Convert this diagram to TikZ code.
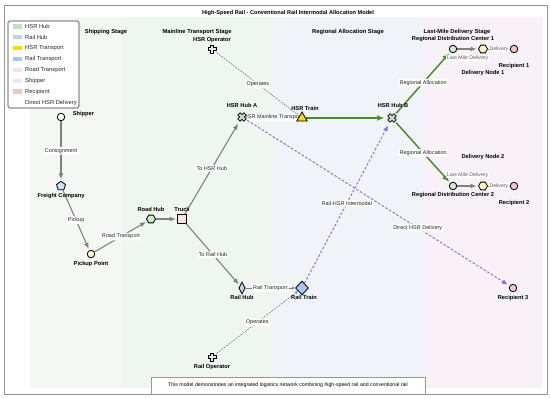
\documentclass[tikz,border=0pt]{standalone}
\usepackage{fontspec}
\setmainfont{Liberation Sans}
\usetikzlibrary{arrows.meta, positioning, shapes.geometric, calc}

\definecolor{hubGreen}{RGB}{190,226,190}
\definecolor{railHubBlue}{RGB}{188,212,238}
\definecolor{hsrGold}{RGB}{255,215,0}
\definecolor{railBlue}{RGB}{169,197,240}
\definecolor{roadPink}{RGB}{252,226,230}
\definecolor{shipLav}{RGB}{238,228,248}
\definecolor{recPink}{RGB}{245,196,196}
\definecolor{pickYellow}{RGB}{255,244,190}
\definecolor{freightBlue}{RGB}{205,225,246}
\definecolor{opFill}{RGB}{242,222,242}
\definecolor{flowGray}{RGB}{128,128,128}
\definecolor{hsrGreen}{RGB}{74,140,46}
\definecolor{interPurple}{RGB}{147,112,219}
\definecolor{bandShip}{RGB}{245,247,245}
\definecolor{bandMain}{RGB}{239,246,239}
\definecolor{bandReg}{RGB}{240,244,249}
\definecolor{bandLast}{RGB}{248,242,248}
\definecolor{frameGray}{RGB}{150,150,150}

\newcommand{\plusPath}[2]{(-#1,-#2) -- (#1,-#2) -- (#1,-#1) -- (#2,-#1) -- (#2,#1) -- (#1,#1) -- (#1,#2) -- (-#1,#2) -- (-#1,#1) -- (-#2,#1) -- (-#2,-#1) -- (-#1,-#1) -- cycle}
\newcommand{\xPath}{(1.98,-4.24) -- (4.24,-1.98) -- (2.26,0) -- (4.24,1.98) -- (1.98,4.24) -- (0,2.26) -- (-1.98,4.24) -- (-4.24,1.98) -- (-2.26,0) -- (-4.24,-1.98) -- (-1.98,-4.24) -- (0,-2.26) -- cycle}

\pgfdeclarelayer{bands}
\pgfdeclarelayer{links}
\pgfsetlayers{bands,links,main}

\begin{document}
\begin{tikzpicture}[
  x=1pt, y=-1pt,
  font=\fontsize{5.7}{6.5}\selectfont,
  shapeBase/.style={draw=black, line width=0.8pt, inner sep=0pt},
  dot/.style={shapeBase, circle, minimum size=7.5pt},
  hexa/.style={shapeBase, regular polygon, regular polygon sides=6, minimum size=9pt},
  penta/.style={shapeBase, regular polygon, regular polygon sides=5, minimum size=9.5pt},
  sq/.style={shapeBase, rectangle, minimum size=8.5pt, fill=roadPink},
  tri/.style={shapeBase, regular polygon, regular polygon sides=3, minimum size=12pt, fill=hsrGold},
  diam/.style={shapeBase, diamond, fill=railBlue},
  hubX/.style={circle, minimum size=12pt, inner sep=0pt, path picture={
    \filldraw[fill=hubGreen, draw=black, line width=0.7pt,
      shift={(path picture bounding box.center)}] \xPath;}},
  opPlus/.style={circle, minimum size=11pt, inner sep=0pt, path picture={
    \filldraw[fill=opFill, draw=black, line width=0.8pt,
      shift={(path picture bounding box.center)}] \plusPath{1.5}{4.1};}},
  lbl/.style={font=\fontsize{5.7}{6.5}\selectfont\bfseries, inner sep=0.5pt},
  stageLbl/.style={font=\fontsize{5.8}{6.5}\selectfont\bfseries, inner sep=0.5pt},
  edgeLbl/.style={fill=white, inner sep=1.2pt, rounded corners=1pt, font=\fontsize{5.5}{6.5}\selectfont, text=black!85},
  smallLbl/.style={fill=white, inner sep=0.6pt, font=\fontsize{5.2}{6}\selectfont, text=black!65},
  legTxt/.style={font=\fontsize{5.8}{6.5}\selectfont, inner sep=0pt, text=black!85},
  flow/.style={draw=flowGray, line width=1.1pt, -{Latex[length=6pt, width=5pt]}, shorten >=1.5pt},
  thinFlow/.style={draw=flowGray, line width=0.6pt, -{Latex[length=3pt, width=3pt]}},
  hsrFlow/.style={draw=hsrGreen, line width=1.5pt, -{Latex[length=7pt, width=6pt]}, shorten >=1.5pt},
  interFlow/.style={draw=interPurple, line width=1pt, dash pattern=on 2.5pt off 1.8pt, -{Latex[length=6pt, width=5pt]}, shorten >=2pt},
  opLine/.style={draw=flowGray, line width=0.6pt, dash pattern=on 2pt off 1pt, -{Latex[length=3pt, width=3pt]}}
]
\useasboundingbox (0,0) rectangle (550,399);

\begin{pgfonlayer}{bands}
  \fill[white] (0,0) rectangle (550,399);
  \fill[bandShip] (30,17) rectangle (122,388);
  \fill[bandMain] (122,17) rectangle (273,388);
  \fill[bandReg] (273,17) rectangle (423,388);
  \fill[bandLast] (423,17) rectangle (543,388);
  \draw[frameGray, line width=0.8pt] (4,5) rectangle (547,394);
\end{pgfonlayer}

\node[font=\fontsize{5.6}{6.5}\selectfont\bfseries] (title) at (288,13) {High-Speed Rail - Conventional Rail Intermodal Allocation Model};

\node[stageLbl] (stShip) at (106,32) {Shipping Stage};
\node[stageLbl] (stMain) at (197,32) {Mainline Transport Stage};
\node[stageLbl] (stReg) at (348,32) {Regional Allocation Stage};
\node[stageLbl] (stLast) at (457,32) {Last-Mile Delivery Stage};

% shipping side
\node[dot, fill=white, label={[lbl, anchor=west, xshift=7pt, yshift=3pt]east:Shipper}] (shipper) at (61,117) {};
\node[penta, fill=freightBlue, label={[lbl, label distance=2pt]below:Freight Company}] (freight) at (61,186) {};
\node[dot, fill=pickYellow, label={[lbl, label distance=2.5pt]below:Pickup Point}] (pickup) at (91,254) {};
\node[hexa, fill=hubGreen!70, label={[lbl, label distance=2pt]above:Road Hub}] (roadHub) at (151,219) {};
\node[sq, label={[lbl, label distance=2pt]above:Truck}] (truck) at (182,219) {};

% mainline
\node[opPlus, label={[lbl, label distance=0pt]above:HSR Operator}] (hsrOp) at (212,49) {};
\node[hubX, label={[lbl, label distance=2.5pt]above:HSR Hub A}] (hubA) at (242,117) {};
\node[tri, label={[lbl, label distance=0pt, xshift=3pt]above:HSR Train}] (hsrTrain) at (302,118) {};
\node[diam, minimum width=6.5pt, minimum height=12pt, fill=railHubBlue, label={[lbl, label distance=0.5pt]below:Rail Hub}] (railHub) at (242,288) {};
\node[diam, minimum width=13pt, minimum height=14pt, label={[lbl, label distance=-1pt, xshift=2pt]below:Rail Train}] (railTrain) at (302,288) {};
\node[opPlus, label={[lbl, label distance=0.5pt]below:Rail Operator}] (railOp) at (212,357) {};

% regional and last mile
\node[hubX, label={[lbl, label distance=3.5pt, xshift=1pt]above:HSR Hub B}] (hubB) at (392,118) {};
\node[dot, fill=hubGreen!70, label={[lbl, label distance=2pt]above:Regional Distribution Center 1}] (rdcA) at (453,49) {};
\node[hexa, fill=pickYellow, label={[lbl, label distance=16pt]below:Delivery Node 1}] (dnA) at (483,49) {};
\node[dot, fill=recPink, label={[lbl, label distance=10pt]below:Recipient 1}] (recA) at (514,49) {};
\node[dot, fill=hubGreen!70, label={[lbl, label distance=2pt]below:Regional Distribution Center 2}] (rdcB) at (453,186) {};
\node[hexa, fill=pickYellow, label={[lbl, label distance=21pt]above:Delivery Node 2}] (dnB) at (483,186) {};
\node[dot, fill=recPink, label={[lbl, label distance=10pt]below:Recipient 2}] (recB) at (514,186) {};
\node[dot, fill=recPink, label={[lbl, label distance=2.5pt]below:Recipient 3}] (recC) at (513,288) {};

\begin{pgfonlayer}{links}
  \draw[flow] (shipper) -- node[edgeLbl] {Consignment} (freight);
  \draw[flow] (freight) -- node[edgeLbl] {Pickup} (pickup);
  \draw[flow] (pickup) -- node[edgeLbl] {Road Transport} (roadHub);
  \draw[flow] (roadHub) -- (truck);
  \draw[flow] (truck) -- node[edgeLbl] {To HSR Hub} (hubA);
  \draw[flow] (truck) -- node[edgeLbl] {To Rail Hub} (railHub);
  \draw[opLine] (hsrOp) -- node[edgeLbl] {Operates} (hsrTrain);
  \draw[opLine] (railOp) -- node[edgeLbl] {Operates} (railTrain);
  \draw[thinFlow] (hubA) -- node[edgeLbl] {HSR Mainline Transport} (hsrTrain);
  \draw[thinFlow] (railHub) -- node[edgeLbl] {Rail Transport} (railTrain);
  \draw[hsrFlow] (hsrTrain) -- (hubB);
  \draw[hsrFlow] (hubB) -- node[edgeLbl] {Regional Allocation} (rdcA);
  \draw[hsrFlow] (hubB) -- node[edgeLbl] {Regional Allocation} (rdcB);
  \draw[interFlow] (railTrain) -- node[edgeLbl] {Rail-HSR Intermodal} (hubB);
  \draw[interFlow] (hubA) -- node[edgeLbl, pos=0.65] {Direct HSR Delivery} (recC);
  \draw[flow] (rdcA) -- node[smallLbl, below=5.5pt] {Last-Mile Delivery} (dnA);
  \draw[thinFlow] (dnA) -- node[smallLbl] {Delivery} (recA);
  \draw[flow] (rdcB) -- node[smallLbl, above=7.5pt] {Last-Mile Delivery} (dnB);
  \draw[thinFlow] (dnB) -- node[smallLbl] {Delivery} (recB);
\end{pgfonlayer}

% legend
\node[draw=black!80, line width=0.6pt, rounded corners=1.5pt, fill=white, minimum width=71pt, minimum height=87pt] (legend) at (43.5,64.5) {};
\foreach \col/\txt [count=\i from 0] in {hubGreen/HSR Hub, railHubBlue/Rail Hub, hsrGold/HSR Transport, railBlue/Rail Transport, roadPink/Road Transport, shipLav/Shipper, recPink/Recipient, white/Direct HSR Delivery} {
  \fill[\col] (12.5,{24+10.9*\i}) rectangle ++(9.5,4.5);
  \node[legTxt, anchor=west] (leg\i) at (25,{26.3+10.9*\i}) {\txt};
}

\node[draw=frameGray, line width=0.6pt, fill=white, minimum width=274pt, minimum height=17pt, inner sep=0pt, font=\fontsize{5.2}{6}\selectfont] (footer) at (288,385.5) {This model demonstrates an integrated logistics network combining high-speed rail and conventional rail};
\end{tikzpicture}
\end{document}
